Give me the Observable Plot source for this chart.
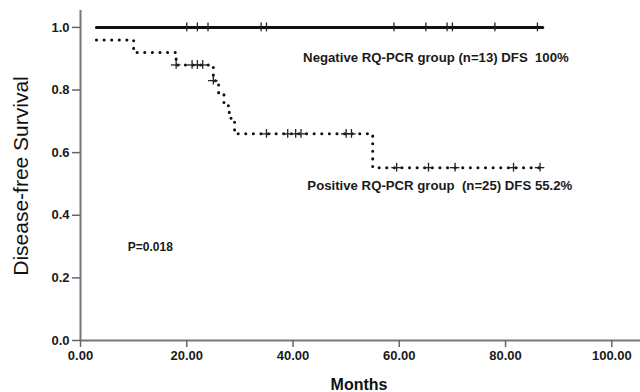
<!DOCTYPE html>
<html><head><meta charset="utf-8">
<script src="https://cdn.jsdelivr.net/npm/d3@7"></script>
<script src="https://cdn.jsdelivr.net/npm/@observablehq/plot@0.6"></script>
<style>
body{margin:0;background:#fff;}
svg{font-family:"Liberation Sans",Arial,sans-serif;}
</style></head>
<body><div id="chart"></div>
<script>
// Negative RQ-PCR group
const negTime = [3, 87];
const negSurv = [1.0, 1.0];
const negCensor = [20, 22, 24, 34, 35, 59, 65, 69, 70, 78, 86];
// Positive RQ-PCR group (step changes)
const posTime = [3, 10, 18, 25, 26, 27, 28, 29, 55, 86.5];
const posSurv = [0.96, 0.92, 0.88, 0.83, 0.79, 0.75, 0.71, 0.66, 0.552, 0.552];
const posCensor = [18, 21, 22, 23, 25, 35, 39, 40.5, 41.5, 50, 51, 59.5, 65.5, 70.5, 81.5, 86.5];
const xTicks = [0, 20, 40, 60, 80, 100];
const yTicks = [0, 0.2, 0.4, 0.6, 0.8, 1.0];
const labels = {
  neg: "Negative RQ-PCR group (n=13) DFS  100%",
  pos: "Positive RQ-PCR group  (n=25) DFS 55.2%",
  p: "P=0.018"
};

const neg = negTime.map((t, i) => ({t, s: negSurv[i]}));
const pos = posTime.map((t, i) => ({t, s: posSurv[i]}));
function survAt(t) { let s = posSurv[0]; for (let i = 0; i < posTime.length; i++) if (posTime[i] <= t) s = posSurv[i]; return s; }
const negC = negCensor.map(t => ({t, s: 1.0}));
const posC = posCensor.map(t => ({t, s: survAt(t)}));
const h = 0.014;

const chart = Plot.plot({
  width: 640, height: 392,
  marginLeft: 80, marginRight: 0, marginTop: 10, marginBottom: 52,
  x: {domain: [0, 105.4]},
  y: {domain: [0, 1.054]},
  style: {fontFamily: "Liberation Sans, Arial, sans-serif", background: "#fff"},
  marks: [
    Plot.ruleX([0], {stroke: "#777", strokeWidth: 2}),
    Plot.ruleY([0], {stroke: "#777", strokeWidth: 2}),
    Plot.axisX({ticks: xTicks, tickFormat: d => d.toFixed(2), tickSize: 7, tickPadding: 3, stroke: "#666", strokeWidth: 1.5,
      fontSize: 13, fontWeight: "bold", fill: "#1a1a1a", label: null}),
    Plot.axisY({ticks: yTicks, tickFormat: d => d.toFixed(1), tickSize: 8, tickPadding: 3, stroke: "#666", strokeWidth: 1.5,
      fontSize: 13, fontWeight: "bold", fill: "#1a1a1a", label: null}),
    Plot.line(neg, {x: "t", y: "s", stroke: "#111", strokeWidth: 3}),
    Plot.ruleX(negC, {x: "t", y1: d => d.s - h, y2: d => d.s + h, stroke: "#222", strokeWidth: 1.3}),
    Plot.line(pos, {x: "t", y: "s", curve: "step-after", stroke: "#111", strokeWidth: 3,
      strokeDasharray: "0.1,7.5", strokeLinecap: "round"}),
    Plot.ruleX(posC, {x: "t", y1: d => d.s - h, y2: d => d.s + h, stroke: "#222", strokeWidth: 1.3}),
    Plot.ruleY(posC, {y: "s", x1: d => d.t - 0.9, x2: d => d.t + 0.9, stroke: "#222", strokeWidth: 1.3}),
    Plot.text([labels.neg], {x: 41.9, y: 0.904, text: d => d, textAnchor: "start", fontSize: 13.2, fontWeight: "bold", fill: "#1a1a1a"}),
    Plot.text([labels.pos], {x: 42.7, y: 0.494, text: d => d, textAnchor: "start", fontSize: 13.2, fontWeight: "bold", fill: "#1a1a1a"}),
    Plot.text([labels.p], {x: 8.9, y: 0.297, text: d => d, textAnchor: "start", fontSize: 12, fontWeight: "bold", fill: "#1a1a1a"})
  ]
});
const svg = d3.select(chart);
svg.append("text").attr("transform", "translate(28,176) rotate(-90)").attr("text-anchor", "middle")
  .attr("font-size", 21).attr("fill", "#111").text("Disease-free Survival");
svg.append("text").attr("x", 359).attr("y", 390).attr("text-anchor", "middle")
  .attr("font-size", 16).attr("font-weight", "bold").attr("fill", "#111").text("Months");
document.getElementById("chart").appendChild(chart);
</script>
</body></html>
